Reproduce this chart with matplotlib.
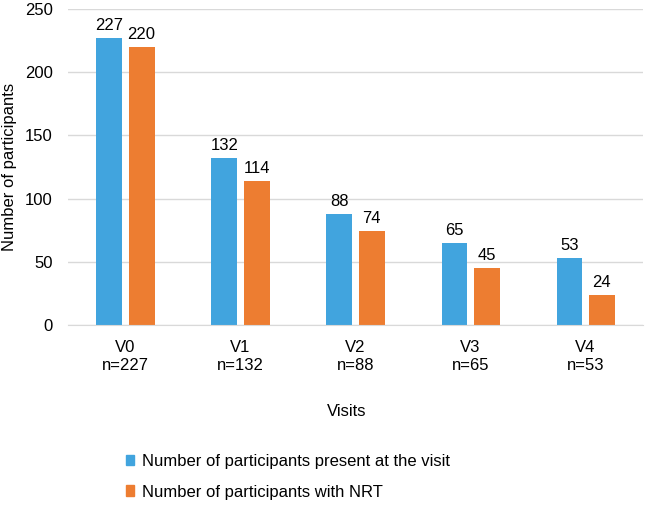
import numpy as np
import matplotlib.pyplot as plt
from matplotlib.patches import Patch

# data
visits = ["V0", "V1", "V2", "V3", "V4"]
n_present = [227, 132, 88, 65, 53]
n_nrt = [220, 114, 74, 45, 24]
series_names = ["Number of participants present at the visit",
                "Number of participants with NRT"]

blue = "#41a4de"
orange = "#ed7d31"
fs = 12

plt.rcParams['font.family'] = ['Liberation Sans', 'DejaVu Sans']

fig = plt.figure(figsize=(6.47, 5.07), dpi=100)
ax = fig.add_axes([0.105, 0.359, 0.889, 0.623])

x = np.arange(len(visits))
w = 0.225
off = 0.14
b1 = ax.bar(x - off, n_present, w, color=blue)
b2 = ax.bar(x + off, n_nrt, w, color=orange)

# value labels above bars
for bars in (b1, b2):
    for b in bars:
        ax.text(b.get_x() + b.get_width() / 2, b.get_height() + 4,
                str(int(b.get_height())), ha='center', va='bottom', fontsize=fs)

ax.set_xlim(-0.5, len(visits) - 0.5)
ax.set_ylim(0, 250)
ax.set_yticks(range(0, 251, 50))
ax.set_xticks(x)
ax.set_xticklabels([f"{v}\nn={n}" for v, n in zip(visits, n_present)], fontsize=fs,
                   linespacing=1.25)
ax.tick_params(axis='both', length=0, labelsize=fs)
ax.tick_params(axis='x', pad=11)
ax.tick_params(axis='y', pad=11)
ax.yaxis.grid(True, color='#d9d9d9', linewidth=1)
ax.set_axisbelow(True)
for s in ['top', 'right', 'left']:
    ax.spines[s].set_visible(False)
ax.spines['bottom'].set_color('#d9d9d9')

ax.set_ylabel("Number of participants", fontsize=fs)
ax.yaxis.set_label_coords(-0.088, 0.5)
fig.text(347 / 647, 1 - 412 / 507, "Visits", ha='center', va='center', fontsize=fs)

handles = [Patch(color=blue), Patch(color=orange)]
fig.legend(handles, series_names, loc='upper left', bbox_to_anchor=(0.184, 1 - 447 / 507),
           frameon=False, fontsize=fs, handlelength=0.5, handleheight=0.6,
           handletextpad=0.5, labelspacing=0.95, borderaxespad=0)

fig.savefig("out.png", dpi=100)
